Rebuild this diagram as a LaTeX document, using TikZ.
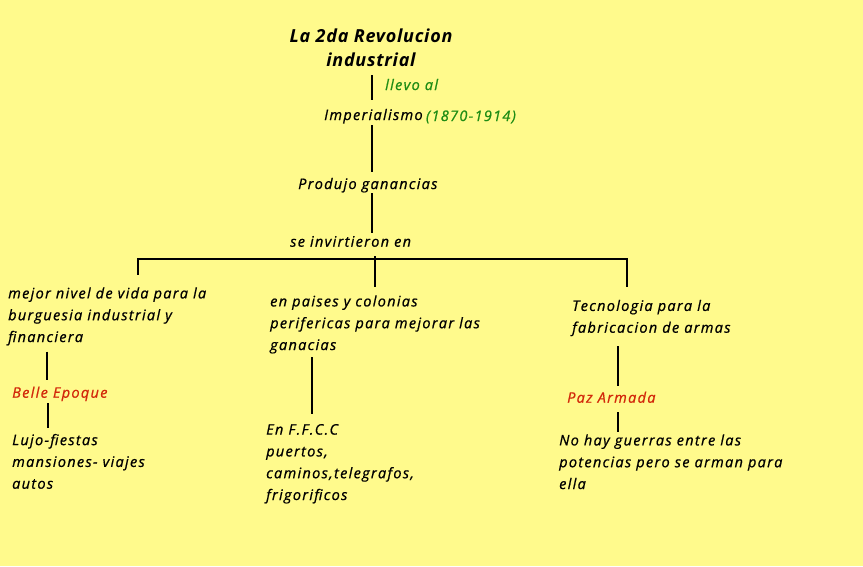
\documentclass[tikz,border=0pt]{standalone}
\usepackage{fontspec}
\usetikzlibrary{calc}
\newfontfamily\bodyfont{Open Sans}[LetterSpace=9,FakeBold=0.8]
\newfontfamily\titlefont{Open Sans}[LetterSpace=4]
\definecolor{bgyellow}{RGB}{255,250,140}
\definecolor{txtgreen}{RGB}{30,140,20}
\definecolor{txtred}{RGB}{210,40,10}
\begin{document}
\begin{tikzpicture}[x=1pt,y=-1pt,
  txt/.style={inner sep=0, anchor=base west, align=left, text=black,
    font=\bodyfont\itshape\fontsize{14.5}{21.8}\selectfont},
  ttl/.style={inner sep=0, anchor=base, align=center,
    font=\titlefont\bfseries\itshape\fontsize{18}{24}\selectfont},
  grn/.style={txt, text=txtgreen},
  rd/.style={txt, text=txtred},
  conn/.style={line width=2pt, black}]
\fill[bgyellow] (0,0) rectangle (863,566);
\useasboundingbox (0,0) rectangle (863,566);

% anchors are at the baseline of the LAST line of each node
\node[ttl] (title) at (371,66.7) {La 2da Revolucion\\industrial};
\node[grn] (llevo) at (385,90) {llevo al};
\node[txt] (imp) at (324,120) {Imperialismo};
\node[grn, anchor=base west] (yrs) at ([xshift=3pt,yshift=-1pt]imp.base east) {(1870-1914)};
\node[txt] (prod) at (298,189) {Produjo ganancias};
\node[txt] (inv) at (290,246.7) {se invirtieron en};

\node[txt] (left1) at (8,342) {mejor nivel de vida para la\\burguesia industrial y\\financiera};
\node[rd] (belle) at (12,397.7) {Belle Epoque};
\node[txt] (lujo) at (12,488.7) {Lujo-fiestas\\mansiones- viajes\\autos};

\node[txt] (mid1) at (270,350) {en paises y colonias\\perifericas para mejorar las\\ganacias};
\node[txt] (ffcc) at (266,500) {En F.F.C.C\\puertos,\\caminos,telegrafos,\\frigorificos};

\node[txt] (tec) at (572,332.7) {Tecnologia para la\\fabricacion de armas};
\node[rd] (paz) at (567,402.7) {Paz Armada};
\node[txt] (nohay) at (559,489) {No hay guerras entre las\\potencias pero se arman para\\ella};

\coordinate (trunk) at (372,0);
\coordinate (barL) at (138,259);
\coordinate (barM) at (375,259);
\coordinate (barR) at (627,259);
\coordinate (colL) at (47,0);
\coordinate (colM) at (312,0);
\coordinate (colR) at (618,0);

% trunk
\draw[conn] ($(title.south -| trunk)+(0,8)$) -- ($(imp.north -| trunk)+(0,-9)$);
\draw[conn] ($(imp.south -| trunk)+(0,1.5)$) -- ($(prod.north -| trunk)+(0,-6)$);
\draw[conn] ($(prod.south -| trunk)+(0,0.5)$) -- ($(inv.north -| trunk)+(0,-3)$);

% bar
\draw[conn] (barL) -- (barR);
\draw[conn] ($(barL)+(0,-1)$) -- ($(barL |- left1.north)+(0,-12)$);
\draw[conn] ($(barM)+(0,-3)$) -- ($(barM |- mid1.north)+(0,-8)$);
\draw[conn] ($(barR)+(0,-1)$) -- ($(barR |- tec.north)+(0,-13)$);

% columns
\draw[conn] ($(left1.south -| colL)+(0,6)$) -- ($(belle.north -| colL)+(0,-6)$);
\draw[conn] ($(belle.south -| colL)+(1,2)$) -- ($(lujo.north -| colL)+(1,-6)$);
\draw[conn] ($(mid1.south -| colM)+(0,3.5)$) -- ($(ffcc.north -| colM)+(0,-9.5)$);
\draw[conn] ($(tec.south -| colR)+(0,10)$) -- ($(paz.north -| colR)+(0,-5)$);
\draw[conn] ($(paz.south -| colR)+(0,9)$) -- ($(nohay.north -| colR)+(0,-2)$);
\end{tikzpicture}
\end{document}
